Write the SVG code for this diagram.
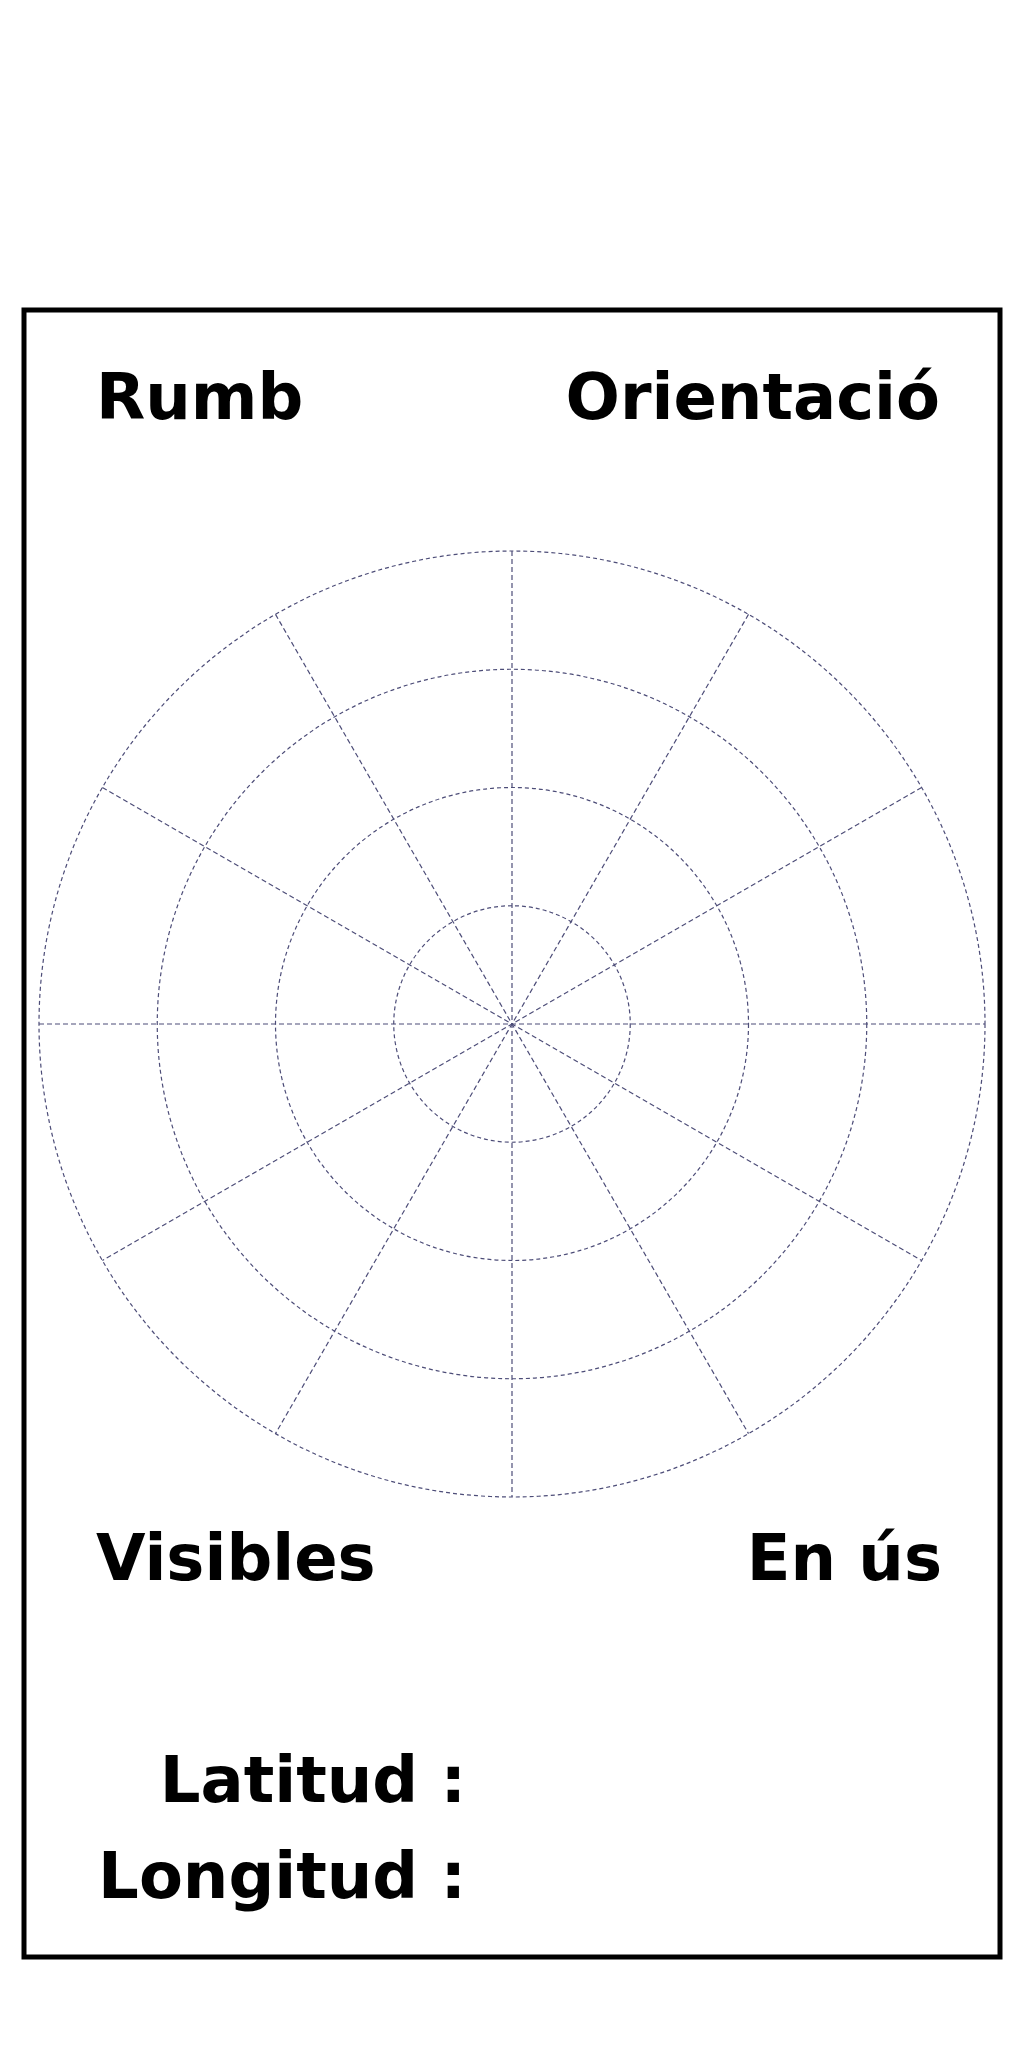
<svg xmlns="http://www.w3.org/2000/svg" width="1024" height="2048" viewBox="0 0 1024 2048">
<style>
.lbl{font-family:"DejaVu Sans",sans-serif;font-weight:bold;font-size:64px;fill:#000}
.ring{fill:none;stroke:#4d4d78;stroke-width:1.2;stroke-dasharray:4,3}
.spoke{stroke:#4d4d78;stroke-width:1.2;stroke-dasharray:5,3}
</style>
<rect width="1024" height="2048" fill="#fff"/>
<rect id="frame" x="24" y="310" width="976" height="1647" fill="none" stroke="#000" stroke-width="5"/>
<g id="rose">
<circle class="ring" cx="512" cy="1024" r="118.25"/>
<circle class="ring" cx="512" cy="1024" r="236.5"/>
<circle class="ring" cx="512" cy="1024" r="354.75"/>
<circle class="ring" cx="512" cy="1024" r="473"/>
<g class="spokes">
<line class="spoke" x1="512" y1="551" x2="512" y2="1497"/>
<line class="spoke" x1="39" y1="1024" x2="985" y2="1024"/>
<line class="spoke" x1="748.5" y1="614.4" x2="275.5" y2="1433.6"/>
<line class="spoke" x1="921.6" y1="787.5" x2="102.4" y2="1260.5"/>
<line class="spoke" x1="275.5" y1="614.4" x2="748.5" y2="1433.6"/>
<line class="spoke" x1="102.4" y1="787.5" x2="921.6" y2="1260.5"/>
</g>
</g>
<g id="rumb"><text class="lbl" x="96" y="419">Rumb</text></g>
<g id="orientacio"><text class="lbl" x="940" y="419" text-anchor="end">Orientació</text></g>
<g id="visibles"><text class="lbl" x="96" y="1580">Visibles</text></g>
<g id="enus"><text class="lbl" x="942" y="1580" text-anchor="end">En ús</text></g>
<g id="latitud"><text class="lbl" x="466" y="1802" text-anchor="end">Latitud :</text></g>
<g id="longitud"><text class="lbl" x="466" y="1898" text-anchor="end">Longitud :</text></g>
</svg>
